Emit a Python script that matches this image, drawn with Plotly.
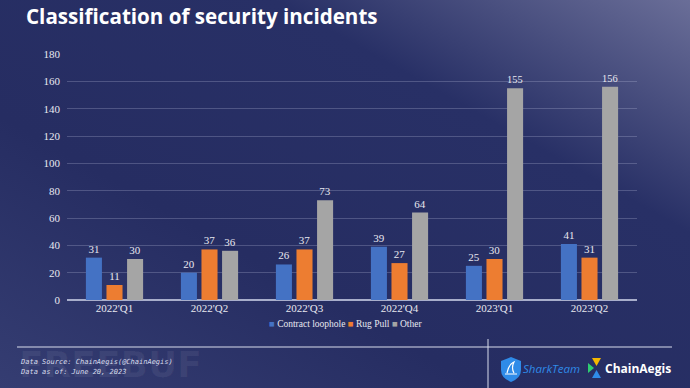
import plotly.graph_objects as go

quarters = ["2022'Q1", "2022'Q2", "2022'Q3", "2022'Q4", "2023'Q1", "2023'Q2"]
contract_loophole = [31, 20, 26, 39, 25, 41]
rug_pull = [11, 37, 37, 27, 30, 31]
other = [30, 36, 73, 64, 155, 156]

series = [
    ("Contract loophole", contract_loophole, "#4472C4"),
    ("Rug Pull", rug_pull, "#ED7D31"),
    ("Other", other, "#A5A5A5"),
]

W, H = 690, 388
ML, MR, MT, MB = 67, 53, 54, 88

fig = go.Figure()
for name, vals, col in series:
    fig.add_trace(go.Bar(
        x=quarters, y=vals, name=name, marker_color=col,
        marker_line_width=0,
        text=vals, textposition="outside", cliponaxis=False,
        textfont=dict(family="Liberation Serif", size=11, color="#e8e8f0"),
    ))

svg = (
    "<svg xmlns='http://www.w3.org/2000/svg' width='690' height='388'>"
    "<defs><linearGradient id='g' x1='0' y1='1' x2='1' y2='0'>"
    "<stop offset='0' stop-color='%23353d72'/>"
    "<stop offset='0.35' stop-color='%23262d62'/>"
    "<stop offset='0.7' stop-color='%23283066'/>"
    "<stop offset='1' stop-color='%236a6e98'/>"
    "</linearGradient></defs>"
    "<rect width='690' height='388' fill='url(%23g)'/></svg>"
)
pw = W - ML - MR
ph = H - MT - MB
fig.add_layout_image(dict(
    source="data:image/svg+xml;utf8," + svg,
    xref="paper", yref="paper",
    x=-ML / pw, y=1 + MT / ph, sizex=W / pw, sizey=H / ph,
    xanchor="left", yanchor="top", sizing="stretch", layer="below",
))

def px_x(x):
    return (x - ML) / pw

def px_y(y):
    return 1 - (y - MT) / ph

fig.update_layout(
    width=W, height=H,
    margin=dict(l=ML, r=MR, t=MT, b=MB),
    paper_bgcolor="#262d62",
    plot_bgcolor="rgba(0,0,0,0)",
    barmode="group", bargap=0.35, bargroupgap=0.22,
    showlegend=False,
    xaxis=dict(showgrid=False, showline=False, zeroline=False, ticks="",
               tickfont=dict(family="Liberation Serif", size=11, color="#e8e8f0")),
    yaxis=dict(range=[0, 180], dtick=20, showgrid=True,
               gridcolor="rgba(200,205,230,0.25)", gridwidth=1,
               zeroline=True, zerolinecolor="#a8aecb", zerolinewidth=1.5,
               ticks="", tickfont=dict(family="Liberation Serif", size=11, color="#e8e8f0"),
               ticklabelstandoff=6),
    font=dict(family="Liberation Serif", color="#e8e8f0"),
)

# watermark (drawn first so it sits beneath other texts)
fig.add_annotation(text="<b>FREEBUF</b>", xref="paper", yref="paper", x=px_x(17), y=px_y(364),
                   xanchor="left", yanchor="middle", showarrow=False,
                   font=dict(family="DejaVu Sans", size=36, color="rgba(255,255,255,0.06)"))

# legend (compact, built from the series names/colours)
legend_html = " ".join(
    f"<span style='color:{col}'>■</span> {name}" for name, _, col in series
)
fig.add_annotation(text=legend_html, xref="paper", yref="paper",
                   x=px_x(345), y=px_y(324), xanchor="center", yanchor="middle",
                   showarrow=False,
                   font=dict(family="Liberation Serif", size=9.5, color="#e8e8f0"))

# title
fig.add_annotation(text="<b>Classification of security incidents</b>", xref="paper", yref="paper",
                   x=px_x(24), y=px_y(16), xanchor="left", yanchor="middle", showarrow=False,
                   font=dict(family="Open Sans", size=20.6, color="white"))

# footer lines
fig.add_shape(type="line", xref="paper", yref="paper", x0=px_x(17), x1=px_x(672),
              y0=px_y(347), y1=px_y(347), line=dict(color="#d8dcec", width=1))
fig.add_shape(type="line", xref="paper", yref="paper", x0=px_x(488), x1=px_x(488),
              y0=px_y(339), y1=px_y(388), line=dict(color="#d8dcec", width=1))

fig.add_annotation(text="<i>Data Source: ChainAegis(@ChainAegis)</i>", xref="paper", yref="paper",
                   x=px_x(18), y=px_y(362), xanchor="left", yanchor="middle", showarrow=False,
                   font=dict(family="DejaVu Sans Mono", size=7, color="#d8dcec"))
fig.add_annotation(text="<i>Data as of: June 20, 2023</i>", xref="paper", yref="paper",
                   x=px_x(18), y=px_y(372), xanchor="left", yanchor="middle", showarrow=False,
                   font=dict(family="DejaVu Sans Mono", size=7, color="#d8dcec"))

# logos (text approximations)
fig.add_shape(type="path", xref="paper", yref="paper",
              path=f"M {px_x(501)} {px_y(361)} L {px_x(511)} {px_y(357)} L {px_x(521)} {px_y(361)} "
                   f"L {px_x(521)} {px_y(370)} Q {px_x(521)} {px_y(378)} {px_x(511)} {px_y(382)} "
                   f"Q {px_x(501)} {px_y(378)} {px_x(501)} {px_y(370)} Z",
              fillcolor="#2f8be8", line=dict(width=0))
fig.add_shape(type="path", xref="paper", yref="paper",
              path=f"M {px_x(505)} {px_y(374)} L {px_x(517)} {px_y(374)} M {px_x(507)} {px_y(373)} "
                   f"Q {px_x(509)} {px_y(364)} {px_x(514)} {px_y(362)} Q {px_x(511)} {px_y(368)} {px_x(514)} {px_y(373)}",
              line=dict(color="white", width=1.2))
fig.add_annotation(text="<i>SharkTeam</i>", xref="paper", yref="paper", x=px_x(521), y=px_y(368),
                   xanchor="left", yanchor="middle", showarrow=False,
                   font=dict(family="Open Sans", size=11.5, color="#2f8be8"))
fig.add_shape(type="path", xref="paper", yref="paper",
              path=f"M {px_x(588)} {px_y(363)} L {px_x(594)} {px_y(368)} L {px_x(588)} {px_y(373)} Z",
              fillcolor="#2ecc71", line=dict(width=0))
fig.add_shape(type="path", xref="paper", yref="paper",
              path=f"M {px_x(592)} {px_y(358)} L {px_x(601)} {px_y(358)} L {px_x(596.5)} {px_y(366)} Z",
              fillcolor="#f5b800", line=dict(width=0))
fig.add_shape(type="path", xref="paper", yref="paper",
              path=f"M {px_x(596.5)} {px_y(370)} L {px_x(601)} {px_y(378)} L {px_x(592)} {px_y(378)} Z",
              fillcolor="#2f8be8", line=dict(width=0))
fig.add_annotation(text="<b>ChainAegis</b>", xref="paper", yref="paper", x=px_x(603), y=px_y(368),
                   xanchor="left", yanchor="middle", showarrow=False,
                   font=dict(family="Open Sans", size=12, color="white"))

fig.write_html("out.html", config={"displayModeBar": False},
               post_script="document.body.style.margin='0';document.body.style.overflow='hidden';")
